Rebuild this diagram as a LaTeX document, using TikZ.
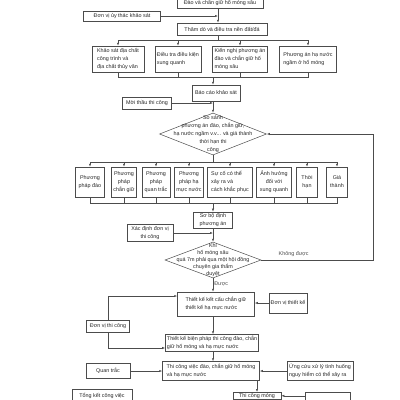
\documentclass[tikz,border=0pt]{standalone}
\usepackage{fontspec}
\setsansfont{Liberation Sans}
\usetikzlibrary{arrows.meta,positioning,shapes.geometric}

\begin{document}
\begin{tikzpicture}[x=1pt,y=-1pt,font=\sffamily\fontsize{5.4}{8}\selectfont,text=black!85,>={Latex[length=3pt,width=2.2pt]},
 box/.style={draw=black!70,line width=.5pt,inner sep=1.5pt,align=center},
 lbox/.style={box,align=left},
 dia/.style={draw=black!70,line width=.5pt,diamond,inner sep=0pt},
 flow/.style={->,line width=.5pt,black!70},
 link/.style={line width=.5pt,black!70}]
\useasboundingbox (0,0) rectangle (400,400);
\clip (0,0) rectangle (400,400);
\coordinate (axA) at (218,0);
\coordinate (axB) at (213,0);
\coordinate (busA) at (0,40);
\coordinate (busB) at (0,77);
\coordinate (busC) at (0,162);
\coordinate (busD) at (0,203);
\coordinate (loopx) at (373,0);

% survey stage
\node[box,minimum width=86pt,minimum height=12pt] (dig) at (220,2.5) {Đào và chắn giữ hố móng sâu};
\node[box,minimum width=77pt,minimum height=10pt] (client) at (122,16) {Đơn vị ủy thác khảo sát};
\node[box,minimum width=90pt,minimum height=12pt] (survey) at (222,29) {Thăm dò và điều tra nền đất/đá};
\draw[flow] (dig.south -| axA) -- (survey.north -| axA);
\draw[flow] (client.east) -- (client.east -| axA);

\node[lbox,minimum width=52pt,minimum height=26pt] (geo) at (118,59) {Khảo sát địa chất\\công trình và\\địa chất thủy văn};
\node[lbox,minimum width=46pt,minimum height=26pt] (env) at (178,59) {Điều tra điều kiện\\xung quanh};
\node[lbox,minimum width=55pt,minimum height=26pt] (plan) at (240,59) {Kiến nghị phương án\\đào và chắn giữ hố\\móng sâu};
\node[lbox,minimum width=57pt,minimum height=26pt] (water) at (308,59) {Phương án hạ nước\\ngầm ở hố móng};
\draw[link] (survey.south -| axA) -- (busA -| axA);
\draw[link] (geo.north |- busA) -- (water.north |- busA);
\draw[flow] (geo.north |- busA) -- (geo.north);
\draw[flow] (env.north |- busA) -- (env.north);
\draw[flow] (plan.north |- busA) -- (plan.north);
\draw[flow] (water.north |- busA) -- (water.north);
\draw[link] (geo.south) -- (geo.south |- busB) -- (water.south |- busB) -- (water.south);
\draw[link] (env.south) -- (env.south |- busB);
\draw[link] (plan.south) -- (plan.south |- busB);

\node[box,minimum width=48pt,minimum height=16pt] (report) at (216,93) {Báo cáo khảo sát};
\node[box,minimum width=49pt,minimum height=12pt] (bid) at (147,103) {Mời thầu thi công};
\draw[flow] (busB -| axB) -- (report.north -| axB);

% comparison of schemes
\node[dia,minimum width=107pt,minimum height=42pt] (cmp) at (213,134) {};
\node[align=center] (cmptext) at (cmp) {So sánh\\phương án đào, chắn giữ,\\hạ nước ngầm v.v... và giá thành\\thời hạn thi\\công};
\draw[flow] (report.south -| axB) -- (cmp.north);
\draw[flow] (bid.east) -- (bid.east -| axB);

\node[box,minimum width=29pt,minimum height=30pt] (p1) at (90,182) {Phương\\pháp đào};
\node[box,minimum width=25pt,minimum height=30pt] (p2) at (124,182) {Phương\\pháp\\chắn giữ};
\node[box,minimum width=28pt,minimum height=30pt] (p3) at (156,182) {Phương\\pháp\\quan trắc};
\node[box,minimum width=29pt,minimum height=30pt] (p4) at (189,182) {Phương\\pháp hạ\\mực nước};
\node[lbox,minimum width=45pt,minimum height=30pt] (p5) at (230,182) {Sự cố có thể\\xảy ra và\\cách khắc phục};
\node[box,minimum width=35pt,minimum height=30pt] (p6) at (274,182) {Ảnh hưởng\\đối với\\xung quanh};
\node[box,minimum width=21pt,minimum height=30pt] (p7) at (307,182) {Thời\\hạn};
\node[box,minimum width=21pt,minimum height=30pt] (p8) at (337,182) {Giá\\thành};
\draw[link] (cmp.south) -- (cmp.south |- busC);
\draw[link] (p1.north |- busC) -- (p8.north |- busC);
\draw[flow] (p1.north |- busC) -- (p1.north);
\draw[flow] (p2.north |- busC) -- (p2.north);
\draw[flow] (p3.north |- busC) -- (p3.north);
\draw[flow] (p4.north |- busC) -- (p4.north);
\draw[flow] (p5.north |- busC) -- (p5.north);
\draw[flow] (p6.north |- busC) -- (p6.north);
\draw[flow] (p7.north |- busC) -- (p7.north);
\draw[flow] (p8.north |- busC) -- (p8.north);
\draw[link] (p1.south) -- (p1.south |- busD) -- (p8.south |- busD) -- (p8.south);
\draw[link] (p2.south) -- (p2.south |- busD);
\draw[link] (p3.south) -- (p3.south |- busD);
\draw[link] (p4.south) -- (p4.south |- busD);
\draw[link] (p5.south) -- (p5.south |- busD);
\draw[link] (p6.south) -- (p6.south |- busD);
\draw[link] (p7.south) -- (p7.south |- busD);

\node[box,minimum width=39pt,minimum height=15pt] (prelim) at (213,220) {Sơ bộ định\\phương án};
\node[box,minimum width=46pt,minimum height=17pt] (pickbuilder) at (150,233) {Xác định đơn vị\\thi công};
\draw[flow] (busD -| axB) -- (prelim.north -| axB);

% expert review
\node[dia,minimum width=96pt,minimum height=36pt] (review) at (213,260) {};
\node[align=center,font=\sffamily\fontsize{5.4}{7}\selectfont] (reviewtext) at (review) {Khi\\hố móng sâu\\quá 7m phải qua một hội đồng\\chuyên gia thẩm\\duyệt};
\draw[flow] (prelim.south -| axB) -- (review.north);
\draw[flow] (pickbuilder.east) -- (pickbuilder.east -| axB);
\draw[flow] (review.east) -- node[above,pos=.29]{Không được} (review.east -| loopx) -- (cmp.east -| loopx) -- (cmp.east);

% design and construction
\node[lbox,minimum width=77pt,minimum height=24pt] (design) at (216,304) {Thiết kế kết cấu chắn giữ\\thiết kế hạ mực nước};
\node[box,minimum width=36pt,minimum height=20pt] (designer) at (288,303) {Đơn vị thiết kế};
\node[box,minimum width=43pt,minimum height=12pt] (builder) at (108,326) {Đơn vị thi công};
\node[lbox,minimum width=88pt,minimum height=17pt] (method) at (212,343) {Thiết kế biện pháp thi công đào, chắn\\giữ hố móng và hạ mực nước};
\draw[flow] (review.south) -- node[right,pos=.45,inner sep=1pt]{Được} (review.south |- design.north);
\draw[flow] (designer.west) -- (designer.west -| design.east);
\draw[flow] (builder.north) |- ([yshift=8pt]design.west);
\draw[flow] (builder.south) |- ([yshift=-5pt]method.west);
\draw[flow] (design.south -| axB) -- (method.north -| axB);

\node[lbox,minimum width=97pt,minimum height=19pt] (build) at (211,371) {Thi công việc đào, chắn giữ hố móng\\và hạ mực nước};
\node[box,minimum width=44pt,minimum height=15pt] (monitor) at (108,371) {Quan trắc};
\node[lbox,minimum width=66pt,minimum height=19pt] (rescue) at (320,371) {Ứng cứu xử lý tình huống\\nguy hiểm có thể xảy ra};
\draw[flow] (method.south -| axB) -- (build.north -| axB);
\draw[flow] (monitor.east) -- (build.west);
\draw[flow] (rescue.west) -- (build.east);

\node[box,anchor=north,minimum width=60pt,minimum height=14pt] (summary) at (102,389) {Tổng kết công việc};
\node[box,anchor=north,minimum width=48pt,inner sep=1pt] (found) at (257,392) {Thi công móng};
\node[box,anchor=north west,minimum width=45pt,minimum height=14pt] (extra) at (305,392) {};
\draw[flow] (build.south -| found.north) -- (found.north);
\draw[flow] (extra.west |- found.east) -- (found.east);
\end{tikzpicture}
\end{document}
